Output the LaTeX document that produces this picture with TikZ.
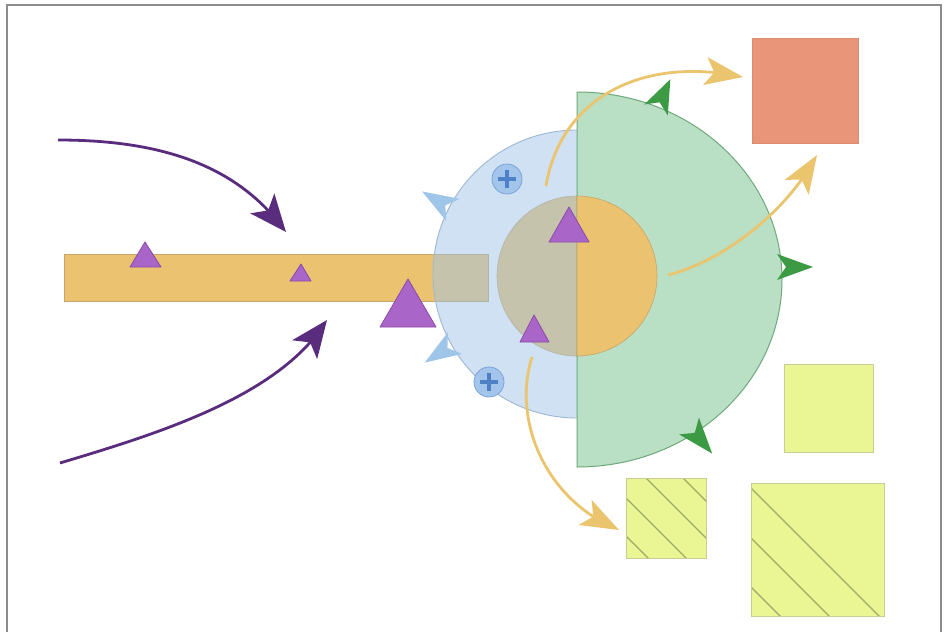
\documentclass[tikz,border=0pt]{standalone}
\usetikzlibrary{arrows.meta,bending}
\definecolor{barorange}{HTML}{EBC270}
\definecolor{barorangeline}{HTML}{C9A466}
\definecolor{bluefill}{HTML}{A0C4E6}
\definecolor{blueline}{HTML}{9DB8D4}
\definecolor{greenfill}{HTML}{B9DFC5}
\definecolor{greenline}{HTML}{6FA97B}
\definecolor{greenbarb}{HTML}{3C9A45}
\definecolor{bluebarb}{HTML}{9FC5E8}
\definecolor{purplefill}{HTML}{A966C8}
\definecolor{purpleline}{HTML}{8A4AA8}
\definecolor{darkpurple}{HTML}{5A2C7E}
\definecolor{arroworange}{HTML}{EBC46E}
\definecolor{salmon}{HTML}{E8957A}
\definecolor{salmonline}{HTML}{D98C72}
\definecolor{paleyellow}{HTML}{EAF593}
\definecolor{paleyellowline}{HTML}{C8CE92}
\definecolor{hatchline}{HTML}{9DAA68}
\definecolor{plusfill}{HTML}{A3C5EB}
\definecolor{plusline}{HTML}{7CA3D6}
\definecolor{plusmark}{HTML}{4F7FC4}
\definecolor{framegray}{HTML}{8C8C8C}
\tikzset{
  barstyle/.style={fill=barorange, draw=barorangeline, line width=0.8pt},
  bluedisk/.style={fill=bluefill, fill opacity=0.5, draw=blueline, line width=0.9pt},
  greendisk/.style={fill=greenfill, draw=greenline, line width=1pt},
  corestyle/.style={fill=barorange, draw=barorangeline, line width=0.6pt},
  ptri/.style={fill=purplefill, draw=purpleline, line width=0.8pt, line join=round},
  purplearrow/.style={draw=darkpurple, line width=2.8pt, -{Stealth[length=37pt,width=31pt,inset=9pt]}},
  orangearrow/.style={draw=arroworange, line width=2.8pt, -{Stealth[length=38pt,width=28pt,inset=9pt]}},
  boxsalmon/.style={fill=salmon, draw=salmonline, line width=0.6pt},
  boxyellow/.style={fill=paleyellow, draw=paleyellowline, line width=1pt},
  hatch/.style={draw=hatchline, line width=1.4pt},
  plusdisk/.style={circle, minimum size=30pt, inner sep=0pt, fill=plusfill, draw=plusline, line width=0.8pt},
  plusbar/.style={draw=plusmark, line width=3.4pt},
  pics/barb/.style n args={3}{code={\fill[#1] (0,-#3) -- (#2,0) -- (0,#3) -- (0.25*#2,0) -- cycle;}}
}
\begin{document}
\begin{tikzpicture}[x=1pt,y=1pt,yscale=-1]
\useasboundingbox (0,0) rectangle (948,632);
\fill[white] (0,0) rectangle (948,632);
\draw[framegray, line width=2pt] (7,5) rectangle (941,660);

% orange bar
\filldraw[barstyle] (64,254) rectangle (488,301);
% inner core (full, will be tinted by blue disk on the left)
\filldraw[corestyle] (577,276) circle[radius=80];
% blue disk
\filldraw[bluedisk] (577,274) circle[radius=144];
% green half disk
\filldraw[greendisk] (577,467) arc[start angle=90, end angle=-90, x radius=205, y radius=187.5] -- cycle;
% right half of core over green
\filldraw[corestyle] (577,196) arc[start angle=-90, end angle=90, radius=80] -- cycle;

% barbs on green
\pic[rotate=65] at (656,110) {barb={greenbarb}{34}{13}};
\pic[rotate=0] at (777,267) {barb={greenbarb}{36}{13}};
\pic[rotate=-50] at (689,426) {barb={greenbarb}{36}{13}};
% barbs on blue
\pic[rotate=149] at (453,210) {barb={bluebarb}{36}{13}};
\pic[rotate=-147] at (455,343) {barb={bluebarb}{36}{13}};

% plus circles
\node[plusdisk] (p1) at (507,179) {};
\node[plusdisk] (p2) at (489,382) {};
\draw[plusbar] ([xshift=-9pt]p1.center) -- ([xshift=9pt]p1.center);
\draw[plusbar] ([yshift=-9pt]p1.center) -- ([yshift=9pt]p1.center);
\draw[plusbar] ([xshift=-9pt]p2.center) -- ([xshift=9pt]p2.center);
\draw[plusbar] ([yshift=-9pt]p2.center) -- ([yshift=9pt]p2.center);

% purple triangles
\filldraw[ptri] (145,242) -- (161,267) -- (130,267) -- cycle;
\filldraw[ptri] (301,264) -- (311,281) -- (290,281) -- cycle;
\filldraw[ptri] (408,279) -- (436,327) -- (380,327) -- cycle;
\filldraw[ptri] (569,207) -- (589,242) -- (549,242) -- cycle;
\filldraw[ptri] (534,315) -- (549,342) -- (520,342) -- cycle;

% squares
\filldraw[boxsalmon] (752,38) rectangle (858,143);
\filldraw[boxyellow] (784,364) rectangle (873,452);
\filldraw[boxyellow] (626,478) rectangle (706,558);
\begin{scope}
  \clip (626,478) rectangle (706,558);
  \foreach \c in {57,20,-20,-58} {
    \draw[hatch] ({626+\c-100},378) -- ({626+\c+200},678);
  }
\end{scope}
\draw[paleyellowline, line width=1pt] (626,478) rectangle (706,558);
\filldraw[boxyellow] (751,483) rectangle (884,616);
\begin{scope}
  \clip (751,483) rectangle (884,616);
  \foreach \c in {-5,-55,-104} {
    \draw[hatch] ({751+\c-100},383) -- ({751+\c+250},733);
  }
\end{scope}
\draw[paleyellowline, line width=1pt] (751,483) rectangle (884,616);

% arrow end coordinates
\coordinate (pa1s) at (58,140);
\coordinate (pa1e) at (286,232);
\coordinate (pa2s) at (60,463);
\coordinate (pa2e) at (327,320);
\coordinate (oa1s) at (546,186);
\coordinate (oa1e) at (743,77);
\coordinate (oa2s) at (668,275);
\coordinate (oa2e) at (817,155);
\coordinate (oa3s) at (532,357);
\coordinate (oa3e) at (619,530);

% purple arrows
\draw[purplearrow] (pa1s) .. controls (165,140) and (239,167) .. (pa1e);
\draw[purplearrow] (pa2s) .. controls (160,433) and (280,396) .. (pa2e);

% orange arrows
\draw[orangearrow] (oa1s) .. controls (560,100) and (640,55) .. (oa1e);
\draw[orangearrow] (oa2s) .. controls (720,262) and (785,215) .. (oa2e);
\draw[orangearrow] (oa3s) .. controls (512,420) and (545,500) .. (oa3e);
\end{tikzpicture}
\end{document}
